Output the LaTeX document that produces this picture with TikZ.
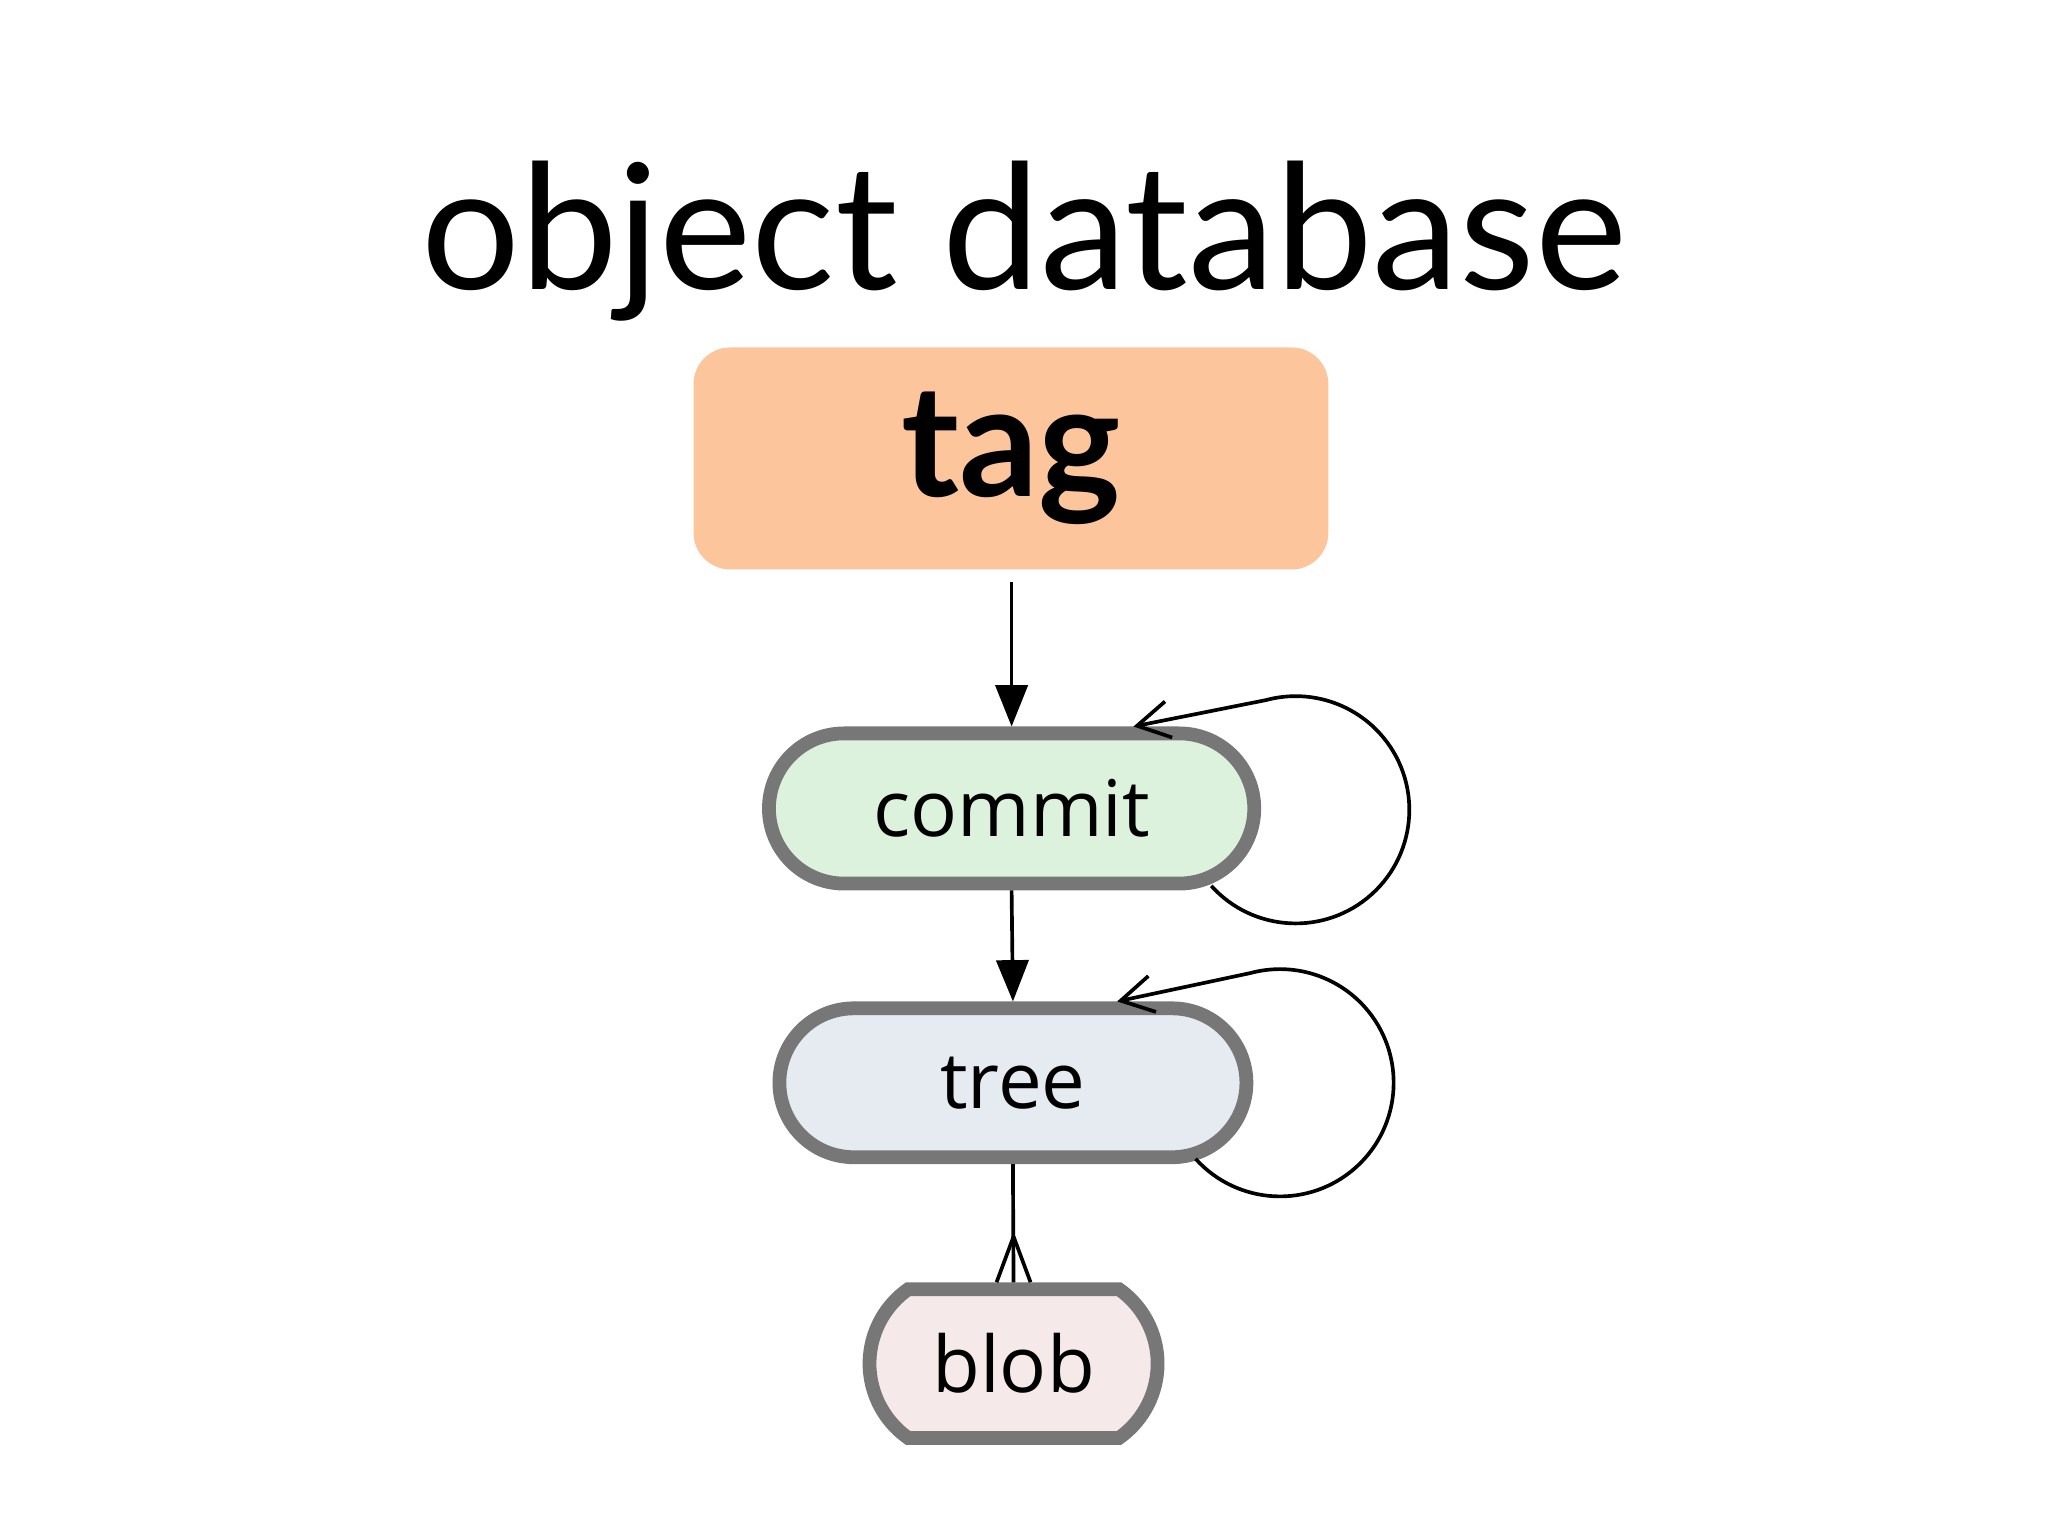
\documentclass[tikz,border=0pt]{standalone}
\usepackage{fontspec}
\setmainfont{Lato}
\newfontfamily\labelfont{Open Sans}
\usetikzlibrary{shapes.misc,arrows.meta}
\definecolor{tagfill}{HTML}{FDC59B}
\definecolor{commitfill}{HTML}{DCF2DC}
\definecolor{treefill}{HTML}{E6EBF2}
\definecolor{blobfill}{HTML}{F5E9E9}
\definecolor{rim}{HTML}{777777}
\tikzset{
  objbox/.style={rounded rectangle, draw=rim, line width=3pt, font=\labelfont\fontsize{17}{20}\selectfont},
  link/.style={-{Triangle[length=9pt,width=7pt]}, line width=0.8pt},
  selfloop/.style={-{Straight Barb[length=7pt,width=8pt]}, line width=0.8pt}
}
\begin{document}
\begin{tikzpicture}
  \useasboundingbox (0,0) rectangle (15.68,-11.76);
  \node (title) at (7.84,-1.85) {\fontsize{38}{44}\selectfont object database};
  \node[fill=tagfill, rounded corners=8pt, minimum width=4.86cm, minimum height=1.70cm,
        font=\bfseries\fontsize{34}{40}\selectfont] (tag) at (7.74,-3.51) {tag};
  \node[objbox, fill=commitfill, minimum width=3.95cm, minimum height=1.15cm] (commit) at (7.745,-6.19) {commit};
  \node[objbox, fill=treefill, minimum width=3.81cm, minimum height=1.14cm] (tree) at (7.755,-8.29) {tree};
  \node[objbox, fill=blobfill, rounded rectangle arc length=110, minimum width=2.44cm, minimum height=1.14cm] (blob) at (7.76,-10.44) {blob};
  % arrows between the objects
  \draw[link] ([yshift=-0.09cm]tag.south -| commit.north) -- (commit.north);
  \draw[link] (commit.south) -- (tree.north);
  \draw[line width=0.8pt] (tree.south) -- (blob.north);
  \draw[line width=0.8pt] ([yshift=0.35cm]blob.north) -- ([xshift=-0.13cm]blob.north)
    ([yshift=0.35cm]blob.north) -- ([xshift=0.13cm]blob.north);
  % self references
  \coordinate (cl) at (9.92,-6.20);
  \coordinate (tl) at (9.80,-8.29);
  \draw[selfloop] ([shift={(-138:0.87)}]cl) arc[start angle=-138, end angle=105, radius=0.87] -- ([xshift=-0.35cm]commit.north east);
  \draw[selfloop] ([shift={(-138:0.87)}]tl) arc[start angle=-138, end angle=105, radius=0.87] -- ([xshift=-0.42cm]tree.north east);
\end{tikzpicture}
\end{document}
